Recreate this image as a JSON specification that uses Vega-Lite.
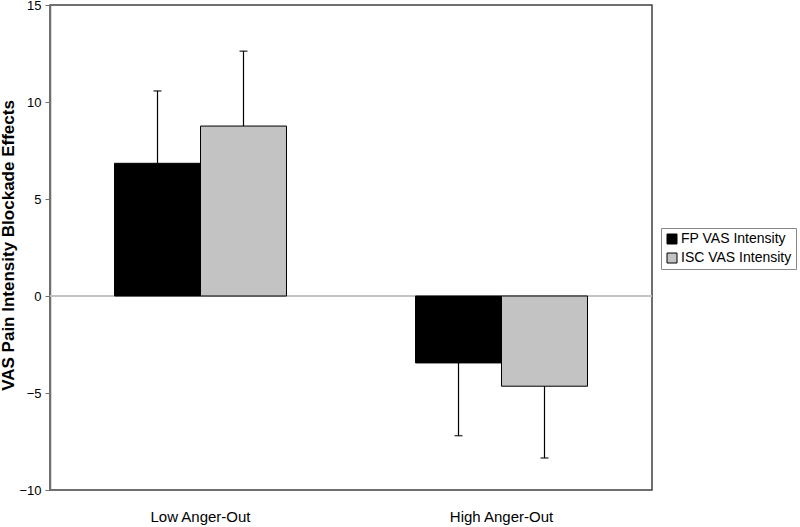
{
  "$schema": "https://vega.github.io/schema/vega-lite/v6.json",
  "width": 602,
  "height": 485,
  "autosize": {"type": "none"},
  "padding": {"left": 50, "top": 5, "right": 148, "bottom": 37},
  "background": "white",
  "config": {
    "font": "Liberation Sans",
    "view": {"stroke": "#404040", "strokeWidth": 1.5}
  },
  "data": {
    "values": [
      {"group": "Low Anger-Out", "series": "FP VAS Intensity", "value": 6.84, "err": 10.57},
      {"group": "Low Anger-Out", "series": "ISC VAS Intensity", "value": 8.76, "err": 12.62},
      {"group": "High Anger-Out", "series": "FP VAS Intensity", "value": -3.45, "err": -7.2},
      {"group": "High Anger-Out", "series": "ISC VAS Intensity", "value": -4.65, "err": -8.35}
    ]
  },
  "encoding": {
    "x": {
      "field": "group",
      "type": "nominal",
      "sort": ["Low Anger-Out", "High Anger-Out"],
      "scale": {"paddingInner": 0.4286, "paddingOuter": 0.2143},
      "axis": {"title": null, "labelAngle": 0, "ticks": false, "domain": false, "labelPadding": 19, "labelFontSize": 15, "labelColor": "#000"}
    },
    "xOffset": {"field": "series", "type": "nominal", "sort": ["FP VAS Intensity", "ISC VAS Intensity"], "scale": {"paddingInner": 0, "paddingOuter": 0}}
  },
  "layer": [
    {
      "mark": {"type": "rule", "color": "#c0c0c0", "strokeWidth": 1},
      "encoding": {"y": {"datum": 0, "type": "quantitative", "scale": {"domain": [-10, 15]}}, "x": null, "xOffset": null}
    },
    {
      "mark": {"type": "rule", "color": "#000", "strokeWidth": 1.2},
      "encoding": {
        "y": {"field": "value", "type": "quantitative"},
        "y2": {"field": "err"}
      }
    },
    {
      "mark": {"type": "tick", "color": "#000", "size": 8, "thickness": 1.5, "orient": "horizontal"},
      "encoding": {
        "y": {"field": "err", "type": "quantitative"}
      }
    },
    {
      "mark": {"type": "bar", "stroke": "#000", "strokeWidth": 1},
      "encoding": {
        "y": {
          "field": "value",
          "type": "quantitative",
          "scale": {"domain": [-10, 15], "nice": false, "zero": false},
          "axis": {
            "title": "VAS Pain Intensity Blockade Effects",
            "titleFontSize": 17,
            "titleFontWeight": "bold",
            "titleColor": "#000",
            "titleX": -50,
            "titleY": 240,
            "titleAngle": -90,
            "titleAlign": "center",
            "titleBaseline": "top",
            "values": [-10, -5, 0, 5, 10, 15],
            "grid": false,
            "domainColor": "#707070",
            "domainWidth": 1.5,
            "tickColor": "#707070",
            "tickSize": 5,
            "labelFontSize": 13,
            "labelColor": "#000",
            "labelPadding": 4
          }
        },
        "fill": {
          "field": "series",
          "type": "nominal",
          "sort": ["FP VAS Intensity", "ISC VAS Intensity"],
          "scale": {"domain": ["FP VAS Intensity", "ISC VAS Intensity"], "range": ["#000000", "#c3c3c3"]},
          "legend": {
            "title": null,
            "orient": "none",
            "legendX": 611,
            "legendY": 223,
            "strokeColor": "#888",
            "padding": 4,
            "symbolType": "square",
            "symbolSize": 100,
            "symbolStrokeColor": "#000",
            "symbolStrokeWidth": 1,
            "labelFontSize": 14,
            "labelColor": "#000",
            "rowPadding": 5,
            "labelOffset": 2
          }
        }
      }
    }
  ]
}
